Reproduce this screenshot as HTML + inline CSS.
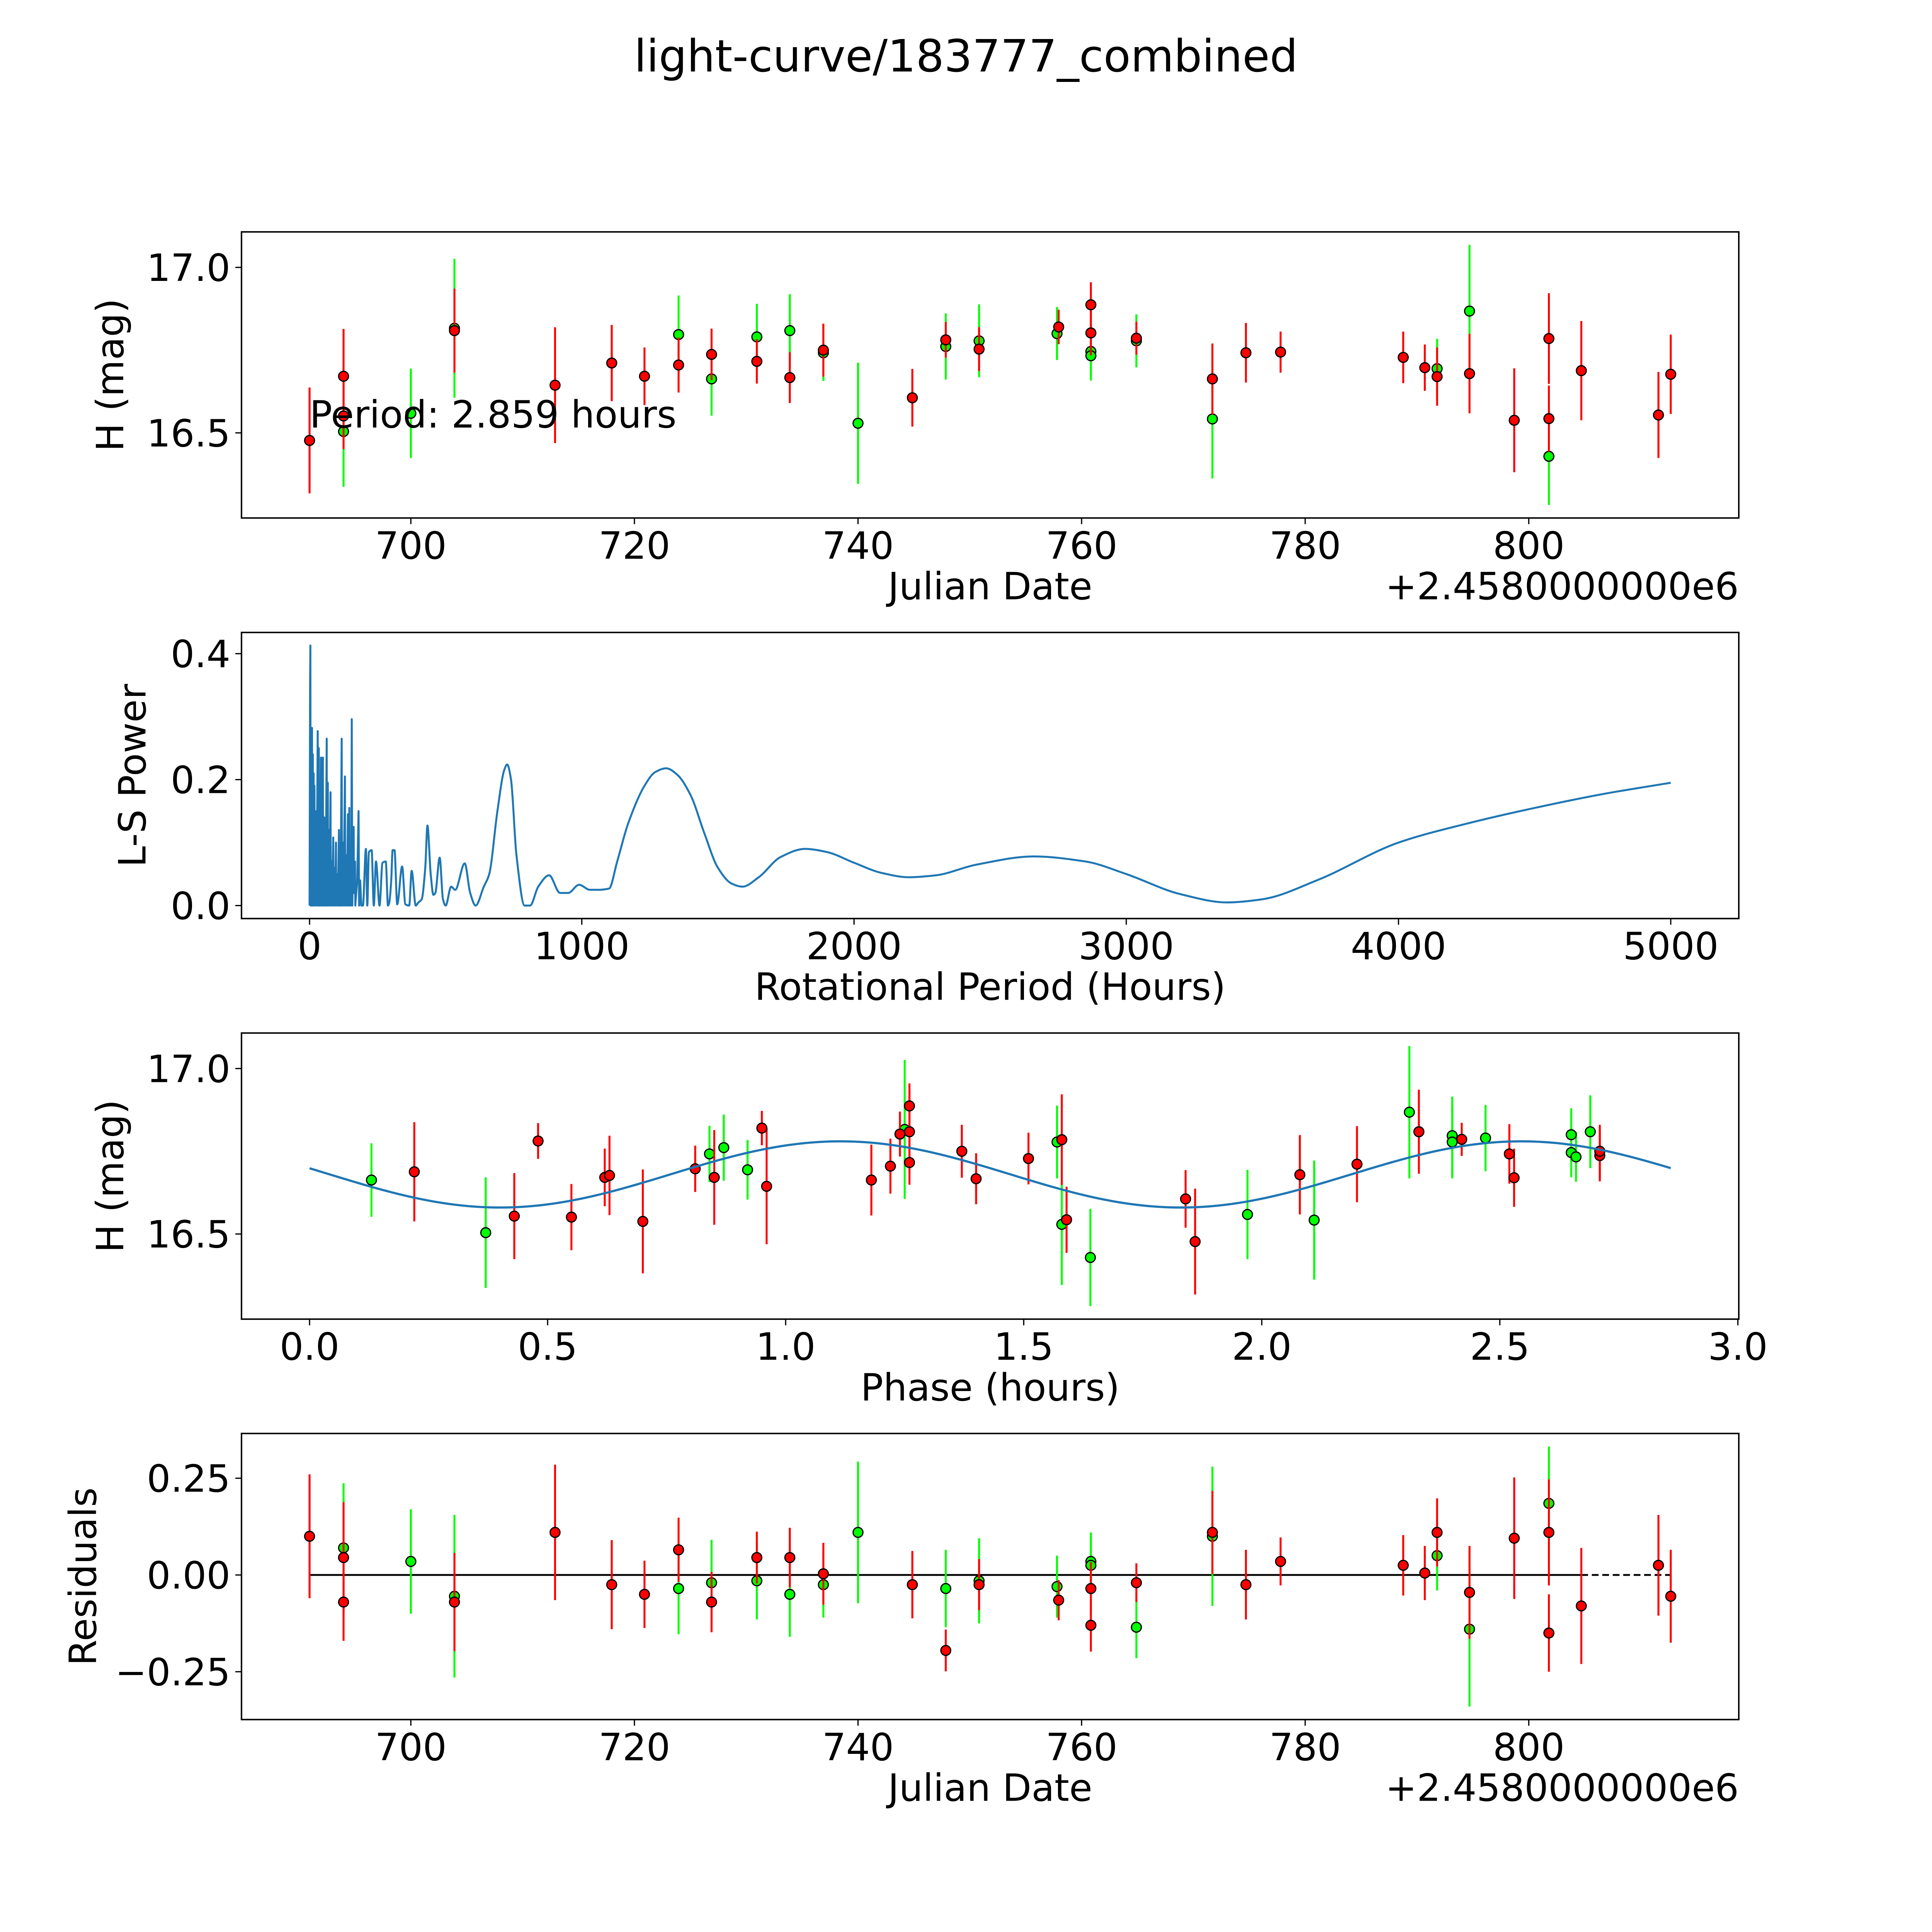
<!DOCTYPE html>
<html><head><meta charset="utf-8"><style>
html,body{margin:0;padding:0;background:#fff;overflow:hidden;width:100vw;height:100vh;}
svg{display:block;width:100vw;height:100vh;}
text{font-family:"DejaVu Sans","Liberation Sans",sans-serif;fill:#000;}
</style></head><body>
<svg id="fig" xmlns="http://www.w3.org/2000/svg" viewBox="0 0 1568 1568" preserveAspectRatio="none">
<rect width="1568" height="1568" fill="#fff"/>
<text x="784" y="58" font-size="36" text-anchor="middle">light-curve/183777_combined</text>
</svg>
<script>
// ---------- Panel 1: raw light curve ----------
const lcDate=[693.98,700.0,703.9,723.95,726.9,730.95,733.9,736.9,740.0,747.85,750.83,757.8,760.83,760.83,764.9,771.7,791.8,794.7,801.8,
 690.94,693.98,693.98,703.9,712.9,717.97,720.9,723.95,726.9,730.95,733.9,736.9,744.86,747.85,750.83,757.95,760.83,760.83,764.9,771.7,774.7,777.8,788.77,790.7,791.8,794.7,798.7,801.8,801.8,804.7,811.6,812.7];
const lcMag=[16.504,16.559,16.816,16.797,16.663,16.79,16.809,16.742,16.529,16.761,16.778,16.8,16.746,16.733,16.778,16.542,16.694,16.868,16.429,
 16.477,16.671,16.551,16.809,16.644,16.711,16.671,16.705,16.737,16.716,16.667,16.75,16.606,16.781,16.753,16.82,16.887,16.802,16.786,16.663,16.742,16.744,16.728,16.697,16.67,16.679,16.538,16.785,16.543,16.688,16.554,16.677];
const lcErr=[0.167,0.135,0.21,0.118,0.111,0.1,0.11,0.085,0.183,0.1,0.11,0.08,0.075,0.075,0.08,0.18,0.09,0.2,0.147,
 0.16,0.143,0.1,0.127,0.175,0.115,0.087,0.083,0.078,0.067,0.077,0.08,0.087,0.054,0.066,0.052,0.068,0.068,0.05,0.107,0.09,0.062,0.078,0.07,0.088,0.12,0.157,0.137,0.1,0.15,0.13,0.12];
const lcBand=['g','g','g','g','g','g','g','g','g','g','g','g','g','g','g','g','g','g','g',
 'r','r','r','r','r','r','r','r','r','r','r','r','r','r','r','r','r','r','r','r','r','r','r','r','r','r','r','r','r','r','r','r'];
const lcXTicks=[700,720,740,760,780,800];
const lcYTicks=[16.5,17.0];

// ---------- Panel 2: periodogram ----------
const lsPeriod=[0,2,3,4,6,7,9,10,12,13,15,16,18,19,21,22,25,26,30,31,34,35,38,39,42,43,45,46,49,50,54,55,58,59,63,64,67,68,72,73,77,78,82,83,87,88,93,94,97,98,103,104,108,109,113,114,118,119,124,125,130,131,136,137,141,142,146,147,152,153,155,157,162,163,167,168,175,180,182,186,190,196,
 207,212,218,228,236,244,257,268,280,288,293,300,305,312,322,340,352,366,375,390,400,412,425,433,445,455,462,478,490,500,520,535,570,590,610,640,660,690,715,726,740,760,790,810,840,880,920,950,990,1030,1060,1100,1130,1170,1230,1270,1310,1350,1400,1450,1500,1550,1590,1650,1730,1820,1900,2000,2100,2200,2300,2450,2660,2850,3000,3200,3370,3500,3700,4000,4250,4500,4750,5000];
const lsPower=[0,0.35,0.413,0.0,0.28,0.0,0.282,0.0,0.24,0.0,0.21,0.0,0.19,0.02,0.15,0.0,0.12,0.0,0.277,0.0,0.25,0.0,0.17,0.0,0.235,0.0,0.23,0.0,0.235,0.0,0.14,0.0,0.13,0.0,0.265,0.0,0.195,0.0,0.12,0.0,0.18,0.0,0.07,0.0,0.108,0.0,0.06,0.0,0.1,0.0,0.05,0.0,0.12,0.0,0.05,0.0,0.265,0.0,0.1,0.0,0.205,0.0,0.08,0.0,0.145,0.0,0.155,0.0,0.09,0.0,0.296,0.0,0.125,0.02,0.07,0.0,0.04,0.15,0.0,0.04,0.0,0.0,
 0.09,0.0,0.085,0.088,0.0,0.07,0.0,0.068,0.07,0.0,0.005,0.04,0.088,0.088,0.002,0.062,0.002,0.0,0.055,0.0,0.005,0.01,0.06,0.127,0.05,0.017,0.02,0.076,0.01,0.0,0.03,0.025,0.067,0.02,0.0,0.03,0.05,0.15,0.215,0.224,0.2,0.08,0.0,0.0,0.03,0.048,0.02,0.02,0.033,0.025,0.025,0.027,0.07,0.13,0.19,0.212,0.218,0.208,0.175,0.115,0.06,0.035,0.03,0.045,0.077,0.09,0.085,0.068,0.052,0.045,0.048,0.065,0.078,0.07,0.05,0.018,0.005,0.01,0.04,0.1,0.13,0.155,0.177,0.195];
const lsXTicks=[0,1000,2000,3000,4000,5000];
const lsYTicks=[0.0,0.2,0.4];

// ---------- Panel 3: phased light curve ----------
const phPhase=[0.13,0.37,0.84,0.87,0.92,1.25,1.57,1.58,1.64,1.97,2.11,2.31,2.40,2.40,2.47,2.65,2.65,2.66,2.69,
 0.22,0.43,0.48,0.55,0.62,0.63,0.70,0.81,0.85,0.95,0.96,1.18,1.22,1.24,1.26,1.26,1.26,1.37,1.40,1.51,1.58,1.59,1.84,1.86,2.08,2.20,2.33,2.42,2.52,2.53,2.71,2.71,2.81];
const phMag=[16.663,16.504,16.742,16.761,16.694,16.816,16.778,16.529,16.429,16.559,16.542,16.868,16.797,16.778,16.79,16.8,16.746,16.733,16.809,
 16.688,16.554,16.781,16.551,16.671,16.677,16.538,16.697,16.671,16.82,16.644,16.663,16.705,16.802,16.887,16.716,16.809,16.75,16.667,16.728,16.785,16.543,16.606,16.477,16.679,16.711,16.809,16.786,16.742,16.67,16.737,16.75,16.744];
const phErr=[0.111,0.167,0.085,0.1,0.09,0.21,0.11,0.183,0.147,0.135,0.18,0.2,0.118,0.11,0.1,0.08,0.075,0.075,0.11,
 0.15,0.13,0.054,0.1,0.087,0.12,0.157,0.07,0.143,0.052,0.175,0.107,0.083,0.068,0.068,0.067,0.127,0.08,0.077,0.078,0.137,0.1,0.087,0.16,0.12,0.115,0.127,0.05,0.09,0.088,0.078,0.08,0.062];
const phBand=lcBand;
const modelMean=[16.68];
const modelAmp=[0.10];
const modelMinPhase=[0.40];
const modelCycle=[1.43];
const modelPeriod=[2.859];
const phXTicks=[0.0,0.5,1.0,1.5,2.0,2.5,3.0];
const phYTicks=[16.5,17.0];

// ---------- Panel 4: residuals ----------
const resDate=lcDate;
const resVal=[0.07,0.035,-0.055,-0.035,-0.02,-0.015,-0.05,-0.025,0.11,-0.035,-0.015,-0.03,0.035,0.025,-0.135,0.10,0.05,-0.14,0.185,
 0.10,0.045,-0.07,-0.07,0.11,-0.025,-0.05,0.065,-0.07,0.045,0.045,0.003,-0.025,-0.195,-0.025,-0.065,-0.035,-0.13,-0.02,0.11,-0.025,0.035,0.025,0.005,0.11,-0.045,0.095,0.11,-0.15,-0.08,0.025,-0.055];
const resErr=lcErr;
const resBand=lcBand;
const resYTicks=[-0.25,0.0,0.25];
const resYLabels=['\u22120.25','0.00','0.25'];

// ---------- helpers ----------
const NS='http://www.w3.org/2000/svg';
const svg=document.getElementById('fig');
const L=196, R=1411.2, H=232.2, FS=30.5;
const TOPS=[188.2,513.3,838.4,1163.4];
function mk(tag,attrs,parent){const e=document.createElementNS(NS,tag);for(const k in attrs)e.setAttribute(k,attrs[k]);(parent||svg).appendChild(e);return e;}
function lim(lo,hi){const m=(hi-lo)*0.05;return [lo-m,hi+m];}
function scale(d0,d1,r0,r1){return v=>r0+(v-d0)/(d1-d0)*(r1-r0);}
function fmt(v,dec){return v.toFixed(dec);}
const COL={g:'#00ff00',r:'#ff0000'};

function frame(g,top,xlim,ylim,xt,xtl,yt,ytl,xlabel,ylabel,ylx,offset){
  const sx=scale(xlim[0],xlim[1],L,R), sy=scale(ylim[0],ylim[1],top+H,top);
  xt.forEach((v,i)=>{const x=sx(v);
    const t=mk('line',{x1:x,x2:x,y1:top+H,y2:top+H+5,stroke:'#000','stroke-width':1},g);
    
    const lb=mk('text',{x:x,y:top+H+33,'font-size':FS,'text-anchor':'middle'},g);lb.textContent=xtl[i];
    });
  yt.forEach((v,i)=>{const y=sy(v);
    const t=mk('line',{x1:L-5,x2:L,y1:y,y2:y,stroke:'#000','stroke-width':1},g);
    
    const lb=mk('text',{x:L-9,y:y+11,'font-size':FS,'text-anchor':'end'},g);lb.textContent=ytl[i];
    });
  const xl=mk('text',{x:(L+R)/2,y:top+H+66,'font-size':FS,'text-anchor':'middle'},g);xl.textContent=xlabel;
  
  const yl=mk('text',{x:ylx,y:top+H/2,'font-size':FS,'text-anchor':'middle',transform:`rotate(-90 ${ylx} ${top+H/2})`},g);yl.textContent=ylabel;
  
  if(offset){const o=mk('text',{x:R,y:top+H+66,'font-size':FS,'text-anchor':'end'},g);o.textContent=offset;
    }
  return {sx,sy};
}
function border(g,top){const b=mk('rect',{x:L,y:top,width:R-L,height:H,fill:'none',stroke:'#000','stroke-width':1.2},g);
  }
function errpoints(g,xs,ys,es,bands,sx,sy){
  ['g','r'].forEach(b=>{
    for(let i=0;i<xs.length;i++){ if(bands[i]!==b) continue;
      const x=sx(xs[i]);
      const l=mk('line',{x1:x,x2:x,y1:sy(ys[i]-es[i]),y2:sy(ys[i]+es[i]),stroke:COL[b],'stroke-width':1.6},g);
      
    }
    for(let i=0;i<xs.length;i++){ if(bands[i]!==b) continue;
      const c=mk('circle',{cx:sx(xs[i]),cy:sy(ys[i]),r:4,fill:COL[b],stroke:'#000','stroke-width':1},g);
      
    }
  });
}

// ---------- Panel 1 ----------
{
  const g=mk('g',{});
  const xl=lim(Math.min(...lcDate),Math.max(...lcDate));
  const yl=lim(Math.min(...lcMag.map((m,i)=>m-lcErr[i])),Math.max(...lcMag.map((m,i)=>m+lcErr[i])));
  const {sx,sy}=frame(g,TOPS[0],xl,yl,lcXTicks,lcXTicks.map(String),lcYTicks,lcYTicks.map(v=>fmt(v,1)),'Julian Date','H (mag)',100,'+2.4580000000e6');
  errpoints(g,lcDate,lcMag,lcErr,lcBand,sx,sy);
  const t=mk('text',{x:sx(lcDate[19]),y:347,'font-size':FS},g);t.textContent='Period: 2.859 hours';
  
  border(g,TOPS[0]);
}
// ---------- Panel 2 ----------
{
  const g=mk('g',{});
  const xl=lim(Math.min(...lsPeriod),Math.max(...lsPeriod));
  const yl=lim(Math.min(...lsPower),Math.max(...lsPower));
  const {sx,sy}=frame(g,TOPS[1],xl,yl,lsXTicks,lsXTicks.map(String),lsYTicks,lsYTicks.map(v=>fmt(v,1)),'Rotational Period (Hours)','L-S Power',118,null);
  const X=lsPeriod.map(sx), Y=lsPower.map(sy), n=X.length;
  const dl=[],m=new Array(n).fill(0);
  for(let i=0;i<n-1;i++)dl.push((Y[i+1]-Y[i])/(X[i+1]-X[i]));
  for(let i=1;i<n-1;i++){ if(dl[i-1]*dl[i]<=0){m[i]=0;} else {m[i]=2/(1/dl[i-1]+1/dl[i]);} }
  m[0]=dl[0];m[n-1]=dl[n-2];
  let d='M'+X[0].toFixed(2)+' '+Y[0].toFixed(2);
  for(let i=1;i<n;i++){
    if(lsPeriod[i]<=196){d+=' L'+X[i].toFixed(2)+' '+Y[i].toFixed(2);continue;}
    const h=X[i]-X[i-1];
    d+=` C${(X[i-1]+h/3).toFixed(2)} ${(Y[i-1]+m[i-1]*h/3).toFixed(2)} ${(X[i]-h/3).toFixed(2)} ${(Y[i]-m[i]*h/3).toFixed(2)} ${X[i].toFixed(2)} ${Y[i].toFixed(2)}`;
  }
  const p=mk('path',{d:d,fill:'none',stroke:'#1f77b4','stroke-width':1.6,'stroke-linejoin':'round'},g);
  
  border(g,TOPS[1]);
}
// ---------- Panel 3 ----------
{
  const g=mk('g',{});
  const N=300, cx=[], cy=[];
  for(let i=0;i<=N;i++){const ph=modelPeriod[0]*i/N;cx.push(ph);
    cy.push(modelMean[0]-modelAmp[0]*Math.cos(2*Math.PI*(ph-modelMinPhase[0])/modelCycle[0]));}
  const xl=lim(0,modelPeriod[0]);
  const lo=Math.min(...phMag.map((m,i)=>m-phErr[i]),...cy), hi=Math.max(...phMag.map((m,i)=>m+phErr[i]),...cy);
  const yl=lim(lo,hi);
  const {sx,sy}=frame(g,TOPS[2],xl,yl,phXTicks,phXTicks.map(v=>fmt(v,1)),phYTicks,phYTicks.map(v=>fmt(v,1)),'Phase (hours)','H (mag)',100,null);
  errpoints(g,phPhase,phMag,phErr,phBand,sx,sy);
  const d=cx.map((x,i)=>(i?'L':'M')+sx(x).toFixed(2)+' '+sy(cy[i]).toFixed(2)).join(' ');
  const p=mk('path',{d:d,fill:'none',stroke:'#1f77b4','stroke-width':1.8},g);
  
  border(g,TOPS[2]);
}
// ---------- Panel 4 ----------
{
  const g=mk('g',{});
  const xl=lim(Math.min(...resDate),Math.max(...resDate));
  const yl=lim(Math.min(...resVal.map((m,i)=>m-resErr[i])),Math.max(...resVal.map((m,i)=>m+resErr[i])));
  const {sx,sy}=frame(g,TOPS[3],xl,yl,lcXTicks,lcXTicks.map(String),resYTicks,resYLabels,'Julian Date','Residuals',78,'+2.4580000000e6');
  const srt=[...resDate].sort((a,b)=>a-b);
  const x0=sx(srt[0]), x1=sx(804.7), x2=sx(srt[srt.length-1]), y0=sy(0);
  const z=mk('line',{x1:x0,x2:x1,y1:y0,y2:y0,stroke:'#000','stroke-width':1.5},g);
  
  const zd=mk('line',{x1:x1,x2:x2,y1:y0,y2:y0,stroke:'#000','stroke-width':1.5,'stroke-dasharray':'5.5 3'},g);
  
  errpoints(g,resDate,resVal,resErr,resBand,sx,sy);
  border(g,TOPS[3]);
}
</script>
</body></html>
